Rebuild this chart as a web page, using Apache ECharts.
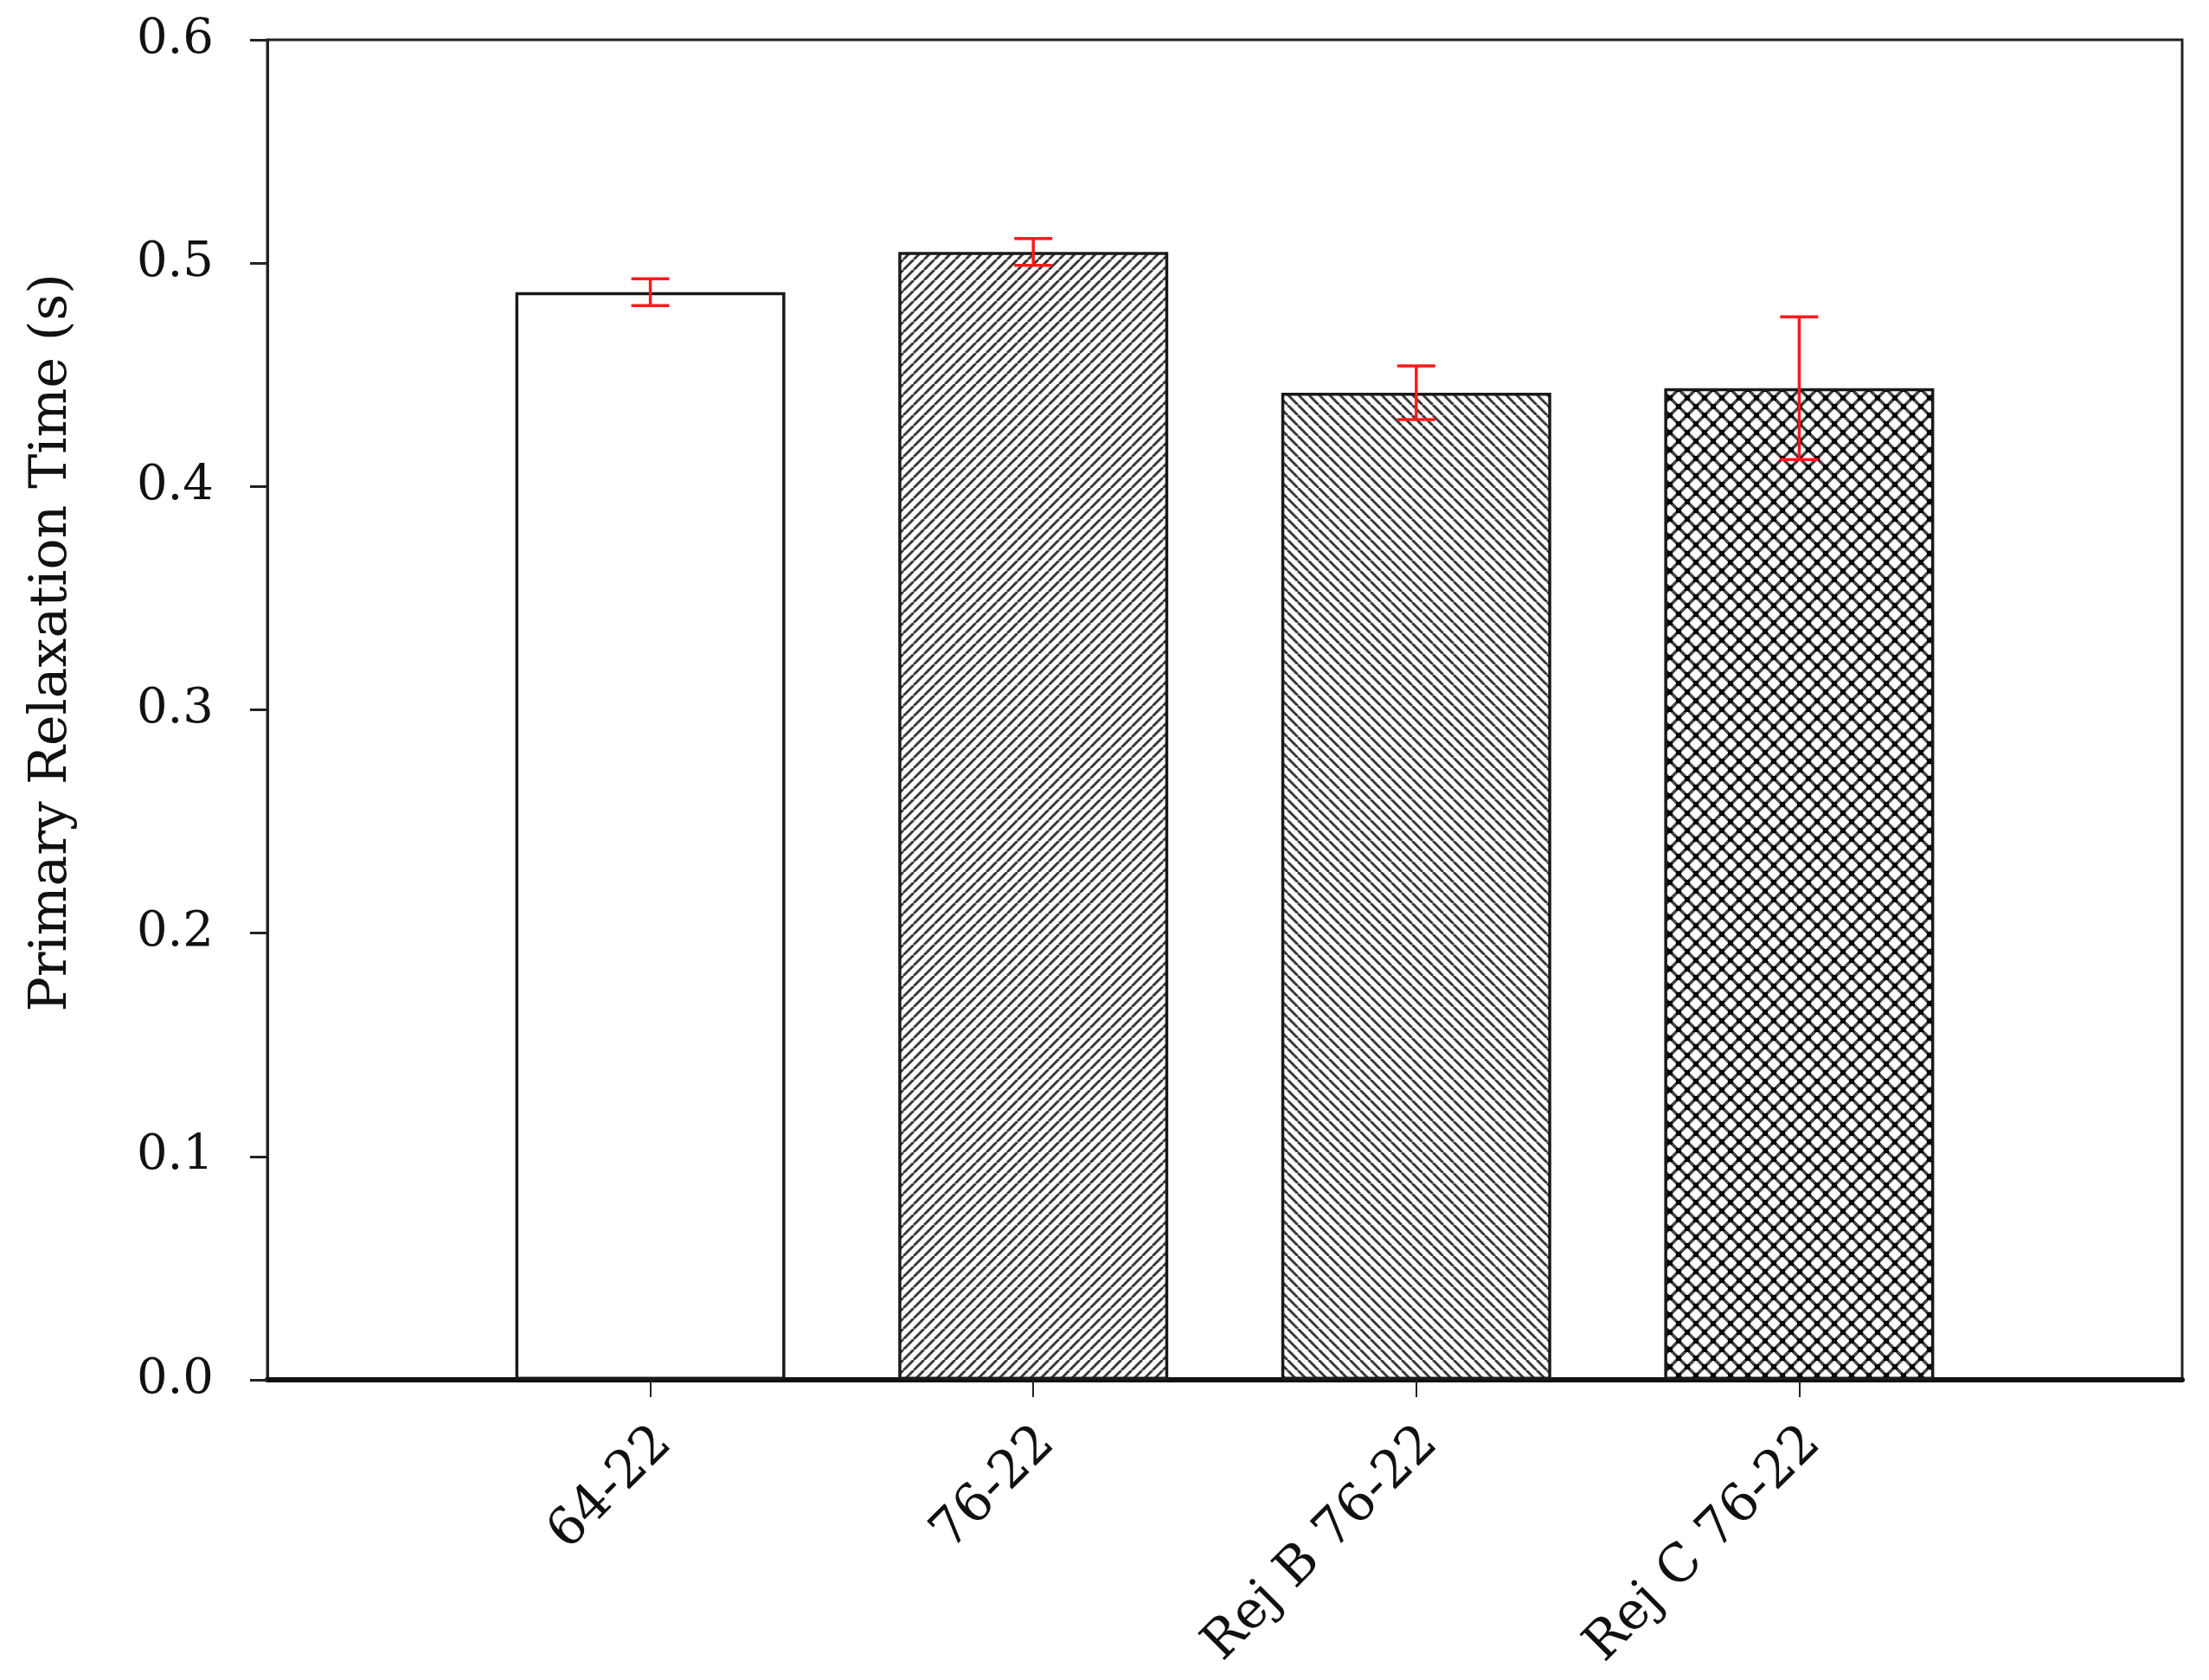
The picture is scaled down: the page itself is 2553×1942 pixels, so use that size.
<!DOCTYPE html>
<html>
<head>
<meta charset="utf-8">
<script src="https://cdn.jsdelivr.net/npm/echarts@6/dist/echarts.min.js"></script>
<style>
html,body{margin:0;padding:0;background:#fff;}
#chart{width:2553px;height:1942px;}
</style>
</head>
<body>
<div id="chart"></div>
<script>
// ---- data ----
const categories = ['64-22', '76-22', 'Rej B 76-22', 'Rej C 76-22'];
const values = [0.487, 0.505, 0.442, 0.444];
const errors = [0.006, 0.006, 0.012, 0.032];
const yTicks = [0.0, 0.1, 0.2, 0.3, 0.4, 0.5, 0.6];
const yTitle = 'Primary Relaxation Time (s)';

// ---- patterns ----
function stripeTile(size, dir, lw, color) {
  const c = document.createElement('canvas');
  c.width = size; c.height = size;
  const g = c.getContext('2d');
  g.fillStyle = '#fff'; g.fillRect(0, 0, size, size);
  g.strokeStyle = color; g.lineWidth = lw;
  g.beginPath();
  for (let k = -1; k <= 1; k++) {
    if (dir > 0) { // "/"
      g.moveTo(k * size, size); g.lineTo(k * size + size, 0);
    } else {      // "\"
      g.moveTo(k * size, 0); g.lineTo(k * size + size, size);
    }
  }
  g.stroke();
  return c;
}
function crossTile(size) {
  const c = document.createElement('canvas');
  c.width = size; c.height = size;
  const g = c.getContext('2d');
  g.fillStyle = '#fff'; g.fillRect(0, 0, size, size);
  const h = size / 2;
  g.strokeStyle = '#444'; g.lineWidth = 3.6;
  g.beginPath();
  [-h, h, 3 * h, 5 * h].forEach(cst => { g.moveTo(cst + 20, -20); g.lineTo(cst - size - 20, size + 20); });
  [-3 * h, -h, h, 3 * h].forEach(cst => { g.moveTo(cst - 20, -20); g.lineTo(cst + size + 20, size + 20); });
  g.stroke();
  g.fillStyle = '#000';
  const d = 6;
  [[h, 0], [h, size], [0, h], [size, h]].forEach(p => g.fillRect(p[0] - d / 2, p[1] - d / 2, d, d));
  return c;
}

const fills = [
  '#ffffff',
  { image: stripeTile(12, 1, 3.0, '#3a3a3a'), repeat: 'repeat' },
  { image: stripeTile(12, -1, 3.0, '#3a3a3a'), repeat: 'repeat' },
  { image: crossTile(20), repeat: 'repeat' }
];

const axisData = [''].concat(categories).concat(['']);
const barData = ['-'].concat(values.map((v, i) => ({
  value: v,
  itemStyle: { color: fills[i] }
}))).concat(['-']);
const errData = values.map((v, i) => [i + 1, v, errors[i]]);

const FONT = 'DejaVu Serif';
const chart = echarts.init(document.getElementById('chart'), null, { renderer: 'canvas' });
chart.setOption({
  animation: false,
  backgroundColor: '#fff',
  grid: {
    left: 309, right: 31, top: 46, bottom: 347,
    show: true, borderColor: '#222', borderWidth: 3, backgroundColor: 'transparent'
  },
  xAxis: {
    type: 'category',
    data: axisData,
    boundaryGap: false,
    axisLine: { show: true, lineStyle: { color: '#111', width: 6 } },
    axisTick: {
      show: true, length: 20, inside: false,
      interval: (idx) => idx > 0 && idx < axisData.length - 1,
      lineStyle: { color: '#222', width: 2 }
    },
    axisLabel: {
      interval: 0, rotate: 45, margin: 80, padding: [0, -22, 0, 0],
      fontFamily: FONT, fontSize: 60, color: '#111'
    },
    splitLine: { show: false }
  },
  yAxis: {
    type: 'value',
    min: yTicks[0], max: yTicks[yTicks.length - 1], interval: 0.1,
    axisLine: { show: true, lineStyle: { color: '#222', width: 3 } },
    axisTick: { show: true, length: 20, inside: false, lineStyle: { color: '#222', width: 3 } },
    axisLabel: {
      margin: 62, fontFamily: FONT, fontSize: 56, color: '#111',
      formatter: (v) => v.toFixed(1)
    },
    splitLine: { show: false }
  },
  graphic: [{
    type: 'text',
    x: 60, y: 743,
    rotation: Math.PI / 2,
    style: {
      text: yTitle, fontFamily: FONT, fontSize: 60, fill: '#111',
      align: 'center', verticalAlign: 'middle'
    }
  }],
  series: [
    {
      type: 'bar',
      data: barData,
      barWidth: 312,
      itemStyle: { borderColor: '#1a1a1a', borderWidth: 3.5 },
      z: 2
    },
    {
      type: 'custom',
      data: errData,
      z: 5,
      renderItem: function (params, api) {
        const x = api.value(0), y = api.value(1), e = api.value(2);
        const top = api.coord([x, y + e]);
        const bot = api.coord([x, y - e]);
        const hw = 22;
        const st = { stroke: '#ff1a1a', lineWidth: 3.5 };
        return {
          type: 'group',
          children: [
            { type: 'line', shape: { x1: top[0], y1: top[1], x2: bot[0], y2: bot[1] }, style: st },
            { type: 'line', shape: { x1: top[0] - hw, y1: top[1], x2: top[0] + hw, y2: top[1] }, style: st },
            { type: 'line', shape: { x1: bot[0] - hw, y1: bot[1], x2: bot[0] + hw, y2: bot[1] }, style: st }
          ]
        };
      }
    }
  ]
});
</script>
</body>
</html>
